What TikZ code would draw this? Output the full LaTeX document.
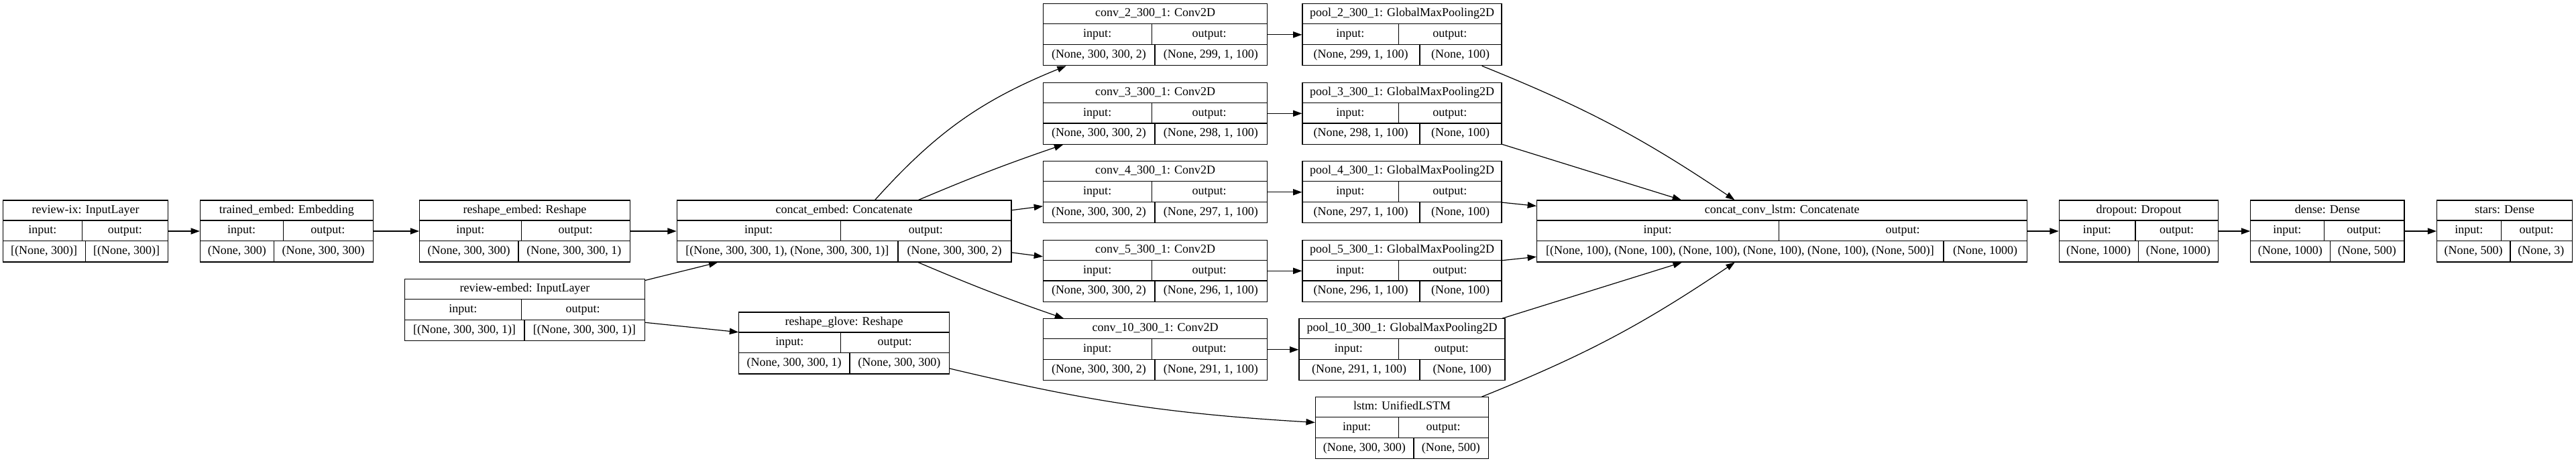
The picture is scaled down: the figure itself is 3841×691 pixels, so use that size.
\documentclass[tikz,border=0pt]{standalone}
\usepackage{fontspec}
\setmainfont{Liberation Serif}
\usetikzlibrary{arrows.meta,calc}

\newcommand\layerfont{\fontsize{13.5}{16}\selectfont}
\newlength\fieldA
\newlength\fieldB
\newlength\fieldC
\newlength\fieldD
\newsavebox\measurebox
% width of a text in the layer font, measured outside the picture's null font
\newcommand\measurefield[2]{%
  \pgfinterruptpicture\global\setbox\measurebox=\hbox{\layerfont #2}\endpgfinterruptpicture
  \setlength#1{\wd\measurebox}}

\tikzset{
  layer/.style={draw, line width=0.9pt, rectangle, inner sep=0pt, minimum height=69pt},
  rowline/.style={line width=0.9pt},
  field/.style={font=\layerfont, inner sep=0pt, text height=9pt, text depth=2.5pt},
  edge/.style={line width=0.9pt, -{Triangle[length=10pt,width=7pt]}}
}

% #1 name, #2 centre, #3 width (px), #4 title, #5 input shape, #6 output shape
\newcommand\kerasbox[6]{%
  \node[layer, minimum width=#3*0.75pt] (#1) at (#2) {};
  \measurefield\fieldA{input:}%
  \measurefield\fieldB{output:}%
  \measurefield\fieldC{#5}%
  \measurefield\fieldD{#6}%
  \pgfmathsetmacro\boxw{#3*0.75}%
  \pgfmathsetmacro\divB{(\boxw+\fieldA-\fieldB)/2}%
  \pgfmathsetmacro\divC{(\boxw+\fieldC-\fieldD)/2}%
  \pgfmathsetmacro\cA{\divB/2}%
  \pgfmathsetmacro\cB{(\divB+\boxw)/2}%
  \pgfmathsetmacro\cC{\divC/2}%
  \pgfmathsetmacro\cD{(\divC+\boxw)/2}%
  \draw[rowline] ($(#1.north west)+(0,-23pt)$) -- ($(#1.north east)+(0,-23pt)$);
  \draw[rowline] ($(#1.north west)+(0,-46pt)$) -- ($(#1.north east)+(0,-46pt)$);
  \draw[rowline] ($(#1.north west)+(\divB pt,-23pt)$) -- ++(0,-23pt);
  \draw[rowline] ($(#1.north west)+(\divC pt,-46pt)$) -- ++(0,-23pt);
  \node[field] (#1-title) at ($(#1.north)+(0,-11.5pt)$) {#4};
  \node[field] (#1-in) at ($(#1.north west)+(\cA pt,-34.5pt)$) {input:};
  \node[field] (#1-out) at ($(#1.north west)+(\cB pt,-34.5pt)$) {output:};
  \node[field] (#1-ishape) at ($(#1.north west)+(\cC pt,-57.5pt)$) {#5};
  \node[field] (#1-oshape) at ($(#1.north west)+(\cD pt,-57.5pt)$) {#6};
}

\begin{document}
\begin{tikzpicture}[x=0.75pt, y=-0.75pt]
  \useasboundingbox (0,0) rectangle (3841,691);

  % inputs and embedding branch
  \kerasbox{reviewix}{127.7,345}{246.1}{review-ix: InputLayer}{[(None, 300)]}{[(None, 300)]}
  \kerasbox{trainedembed}{427.3,345}{257.6}{trained\_embed: Embedding}{(None, 300)}{(None, 300, 300)}
  \kerasbox{reshapeembed}{782.5,345}{313.6}{reshape\_embed: Reshape}{(None, 300, 300)}{(None, 300, 300, 1)}
  \kerasbox{reviewembed}{782.5,462.7}{357.6}{review-embed: InputLayer}{[(None, 300, 300, 1)]}{[(None, 300, 300, 1)]}
  \kerasbox{concatembed}{1258.6,345}{498.6}{concat\_embed: Concatenate}{[(None, 300, 300, 1), (None, 300, 300, 1)]}{(None, 300, 300, 2)}
  \kerasbox{reshapeglove}{1258.5,512}{313.5}{reshape\_glove: Reshape}{(None, 300, 300, 1)}{(None, 300, 300)}

  % convolution and pooling columns
  \foreach \k/\y/\len/\pw in {2/51.8/299/297, 3/169.3/298/297, 4/286.8/297/297, 5/404.3/296/297, 10/521.8/291/307} {
    \kerasbox{conv\k}{1722.5,\y}{333.7}{conv\_\k\_300\_1: Conv2D}{(None, 300, 300, 2)}{(None, \len, 1, 100)}
    \kerasbox{pool\k}{2090.5,\y}{\pw}{pool\_\k\_300\_1: GlobalMaxPooling2D}{(None, \len, 1, 100)}{(None, 100)}
  }
  \kerasbox{lstm}{2090.5,638.8}{258.2}{lstm: UnifiedLSTM}{(None, 300, 300)}{(None, 500)}

  % head
  \kerasbox{concatconvlstm}{2657.2,345}{731.2}{concat\_conv\_lstm: Concatenate}{[(None, 100), (None, 100), (None, 100), (None, 100), (None, 100), (None, 500)]}{(None, 1000)}
  \kerasbox{dropout}{3189,345}{237.4}{dropout: Dropout}{(None, 1000)}{(None, 1000)}
  \kerasbox{dense}{3470.4,345}{229.2}{dense: Dense}{(None, 1000)}{(None, 500)}
  \kerasbox{stars}{3734.5,345}{201.7}{stars: Dense}{(None, 500)}{(None, 3)}

  % connections
  \draw[edge] (reviewix) -- (trainedembed);
  \draw[edge] (trainedembed) -- (reshapeembed);
  \draw[edge] (reshapeembed) -- (concatembed);
  \draw[edge] (reviewembed) -- (concatembed);
  \draw[edge] (reviewembed) -- (reshapeglove);
  \draw[edge] (concatembed) to[bend left=13] (conv2);
  \draw[edge] (concatembed) to[bend left=2] (conv3);
  \draw[edge] (concatembed) -- (conv4);
  \draw[edge] (concatembed) -- (conv5);
  \draw[edge] (concatembed) to[bend right=2] (conv10);
  \draw[edge] (reshapeglove) to[bend right=5] (lstm);
  \foreach \k in {2,3,4,5,10}
    \draw[edge] (conv\k) -- (pool\k);
  \draw[edge] (pool2) to[bend left=6] (concatconvlstm);
  \foreach \k in {3,4,5,10}
    \draw[edge] (pool\k) -- (concatconvlstm);
  \draw[edge] (lstm) to[bend right=6] (concatconvlstm);
  \draw[edge] (concatconvlstm) -- (dropout);
  \draw[edge] (dropout) -- (dense);
  \draw[edge] (dense) -- (stars);
\end{tikzpicture}
\end{document}
